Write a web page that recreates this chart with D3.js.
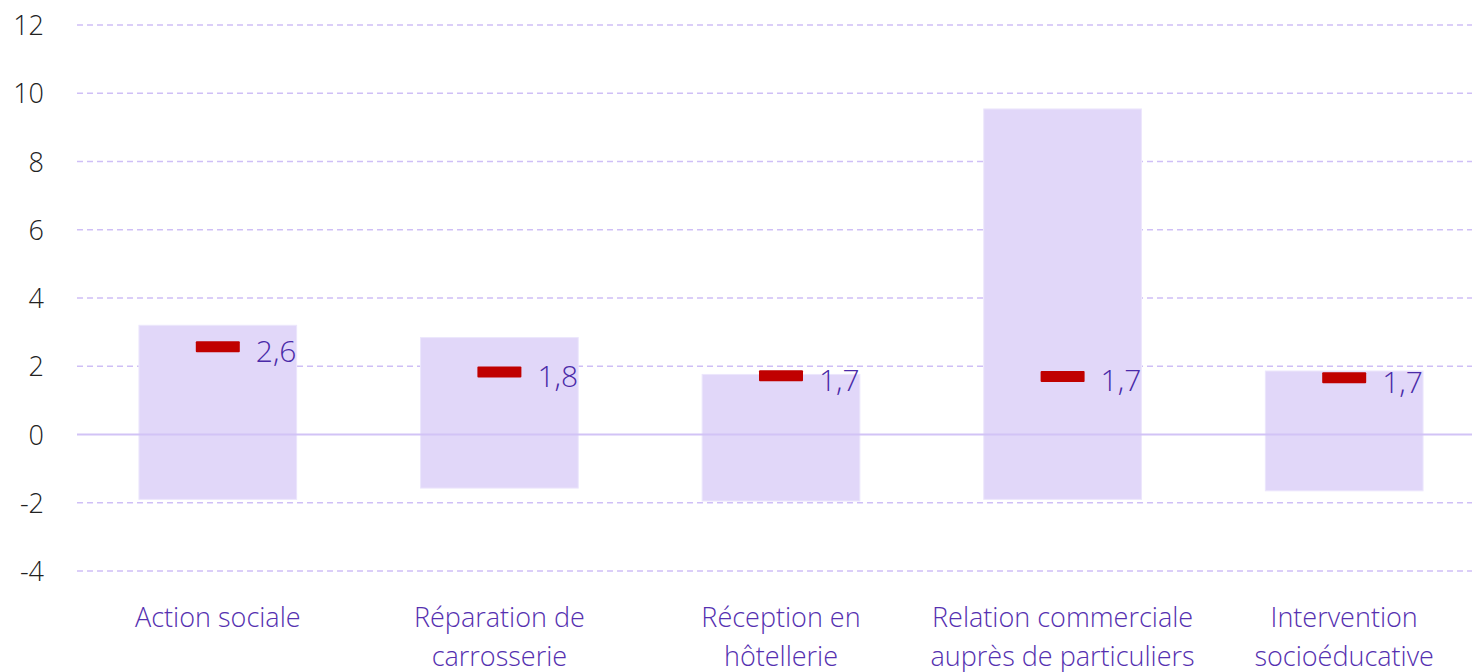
<!DOCTYPE html>
<html><head><meta charset="utf-8">
<script src="https://cdn.jsdelivr.net/npm/d3@7"></script>
<style>
html,body{margin:0;padding:0;background:#fff;}
svg{display:block;font-family:"Open Sans","Noto Sans",sans-serif;font-weight:300;}
</style></head>
<body><svg id="c" width="1472" height="672"></svg>
<script>
const categories = [["Action sociale"],["Réparation de","carrosserie"],["Réception en","hôtellerie"],["Relation commerciale","auprès de particuliers"],["Intervention","socioéducative"]];
const lows = [-1.9, -1.57, -1.95, -1.9, -1.65];
const highs = [3.2, 2.84, 1.76, 9.54, 1.86];
const values = [2.57, 1.83, 1.72, 1.70, 1.66];
const yTicks = [-4, -2, 0, 2, 4, 6, 8, 10, 12];

const svg = d3.select("#c");
const y = d3.scaleLinear().domain([-4, 12]).range([571, 25]);
const x = d3.scaleBand().domain(d3.range(categories.length)).range([77, 1485]).paddingInner(0.44).paddingOuter(0.22);

// gridlines
svg.append("g").selectAll("line").data(yTicks.filter(d => d !== 0)).join("line")
  .attr("x1", 77).attr("x2", 1472).attr("y1", d => y(d)).attr("y2", d => y(d))
  .attr("stroke", "#cfbff6").attr("stroke-width", 1.5).attr("stroke-dasharray", "6,4");

// axis labels
const yAxis = d3.axisLeft(y).tickValues(yTicks).tickSize(0).tickPadding(0).tickFormat(d => String(d));
const ga = svg.append("g").attr("transform", "translate(44,0)").call(yAxis);
ga.select(".domain").remove();
ga.selectAll("text").attr("font-size", 27).attr("fill", "#222").attr("font-family", "'Open Sans','Noto Sans',sans-serif").attr("font-weight", 300).attr("dy", "0.36em");

// bars
svg.append("g").selectAll("rect").data(categories).join("rect")
  .attr("x", (d, i) => x(i)).attr("width", x.bandwidth())
  .attr("y", (d, i) => y(highs[i])).attr("height", (d, i) => y(lows[i]) - y(highs[i]))
  .attr("fill", "#e1d7f9").attr("stroke", "#ece6fc").attr("stroke-width", 1);

// zero line
svg.append("line").attr("x1", 77).attr("x2", 1472).attr("y1", y(0)).attr("y2", y(0))
  .attr("stroke", "#d2c3f6").attr("stroke-width", 2);

// markers
const mw = 44, mh = 11;
svg.append("g").selectAll("rect").data(values).join("rect")
  .attr("x", (d, i) => x(i) + x.bandwidth() / 2 - mw / 2).attr("width", mw)
  .attr("y", d => y(d) - mh / 2).attr("height", mh)
  .attr("fill", "#c00000").attr("rx", 1);

// value labels
const fmt = d => d3.format(".1f")(d).replace(".", ",");
svg.append("g").selectAll("text").data(values).join("text")
  .attr("x", (d, i) => x(i) + x.bandwidth() / 2 + mw / 2 + 16)
  .attr("y", d => y(d) + 15)
  .attr("font-size", 30).attr("fill", "#4a2aa8")
  .text(fmt);

// category labels
const cg = svg.append("g").selectAll("text").data(categories).join("text")
  .attr("x", (d, i) => x(i) + x.bandwidth() / 2).attr("y", 627)
  .attr("text-anchor", "middle").attr("font-size", 27).attr("fill", "#5530b0");
cg.selectAll("tspan").data(d => d).join("tspan")
  .attr("x", function() { return this.parentNode.getAttribute("x"); })
  .attr("dy", (d, i) => i === 0 ? 0 : 39)
  .text(d => d);
</script></body></html>
